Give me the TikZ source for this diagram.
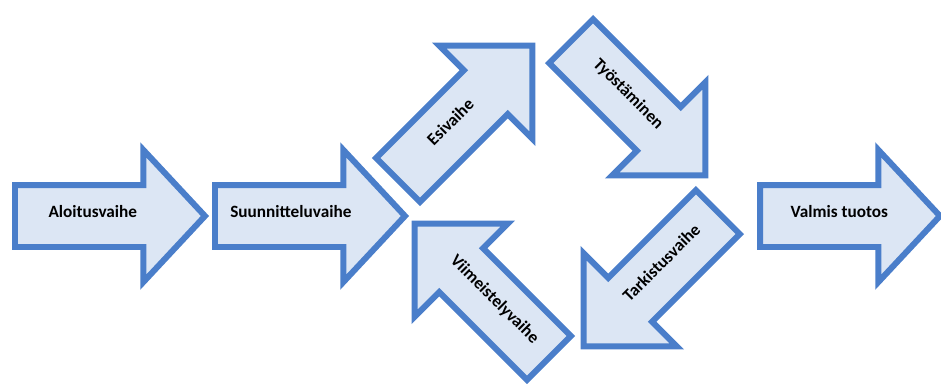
\documentclass[tikz,border=0pt]{standalone}
\usepackage{fontspec}
\setmainfont{Carlito}
\usetikzlibrary{shapes.arrows,calc}

\definecolor{phaseline}{RGB}{74,126,202}
\definecolor{phasefill}{RGB}{220,230,244}

\tikzset{
	phase/.style={single arrow, draw=phaseline, fill=phasefill, line width=0.12cm,
		single arrow head extend=0.7cm, single arrow tip angle=90,
		minimum height=3.8cm, minimum width=0pt,
		inner xsep=0pt, inner ysep=0.56cm, anchor=tail},
	phaselabel/.style={font=\bfseries\fontsize{9.8}{11}\selectfont, inner sep=0pt,
		text depth=1ex}
}

\begin{document}
\begin{tikzpicture}[x=0.02cm, y=-0.02cm]

		\clip (0,0) rectangle (941,383);

		% straight arrows
		\node[phase, single arrow tip angle=94] (aloitus) at (12,216) {};
		\node[phase, single arrow tip angle=94] (suunnittelu) at (212,216) {};
		\node[phase, single arrow tip angle=94, minimum height=3.6cm] (valmis) at (757,216) {};

		% the loop
		\node[phase, rotate=45] (esi) at (396,182) {};
		\node[phase, rotate=-45] (tyosto) at (569,39) {};
		\node[phase, rotate=225] (tarkistus) at (720,210) {};
		\node[phase, rotate=135] (viimeistely) at (551,360) {};

		% labels
		\node[phaselabel] (aloitusL) at ($(aloitus.tail)!0.41!(aloitus.tip)$) {Aloitusvaihe};
		\node[phaselabel] (suunnitteluL) at ($(suunnittelu.tail)!0.4!(suunnittelu.tip)$) {Suunnitteluvaihe};
		\node[phaselabel] (valmisL) at ($(valmis.tail)!0.44!(valmis.tip)$) {Valmis tuotos};
		\node[phaselabel, rotate=45] (esiL) at ($(esi.tail)!0.41!(esi.tip)$) {Esivaihe};
		\node[phaselabel, rotate=-45] (tyostoL) at ($(tyosto.tail)!0.41!(tyosto.tip)$) {Työstäminen};
		\node[phaselabel, rotate=45] (tarkistusL) at ($(tarkistus.tail)!0.4!(tarkistus.tip)$) {Tarkistusvaihe};
		\node[phaselabel, rotate=-45] (viimeistelyL) at ($(viimeistely.tail)!0.42!(viimeistely.tip)$) {Viimeistelyvaihe};

	\end{tikzpicture}
\end{document}
